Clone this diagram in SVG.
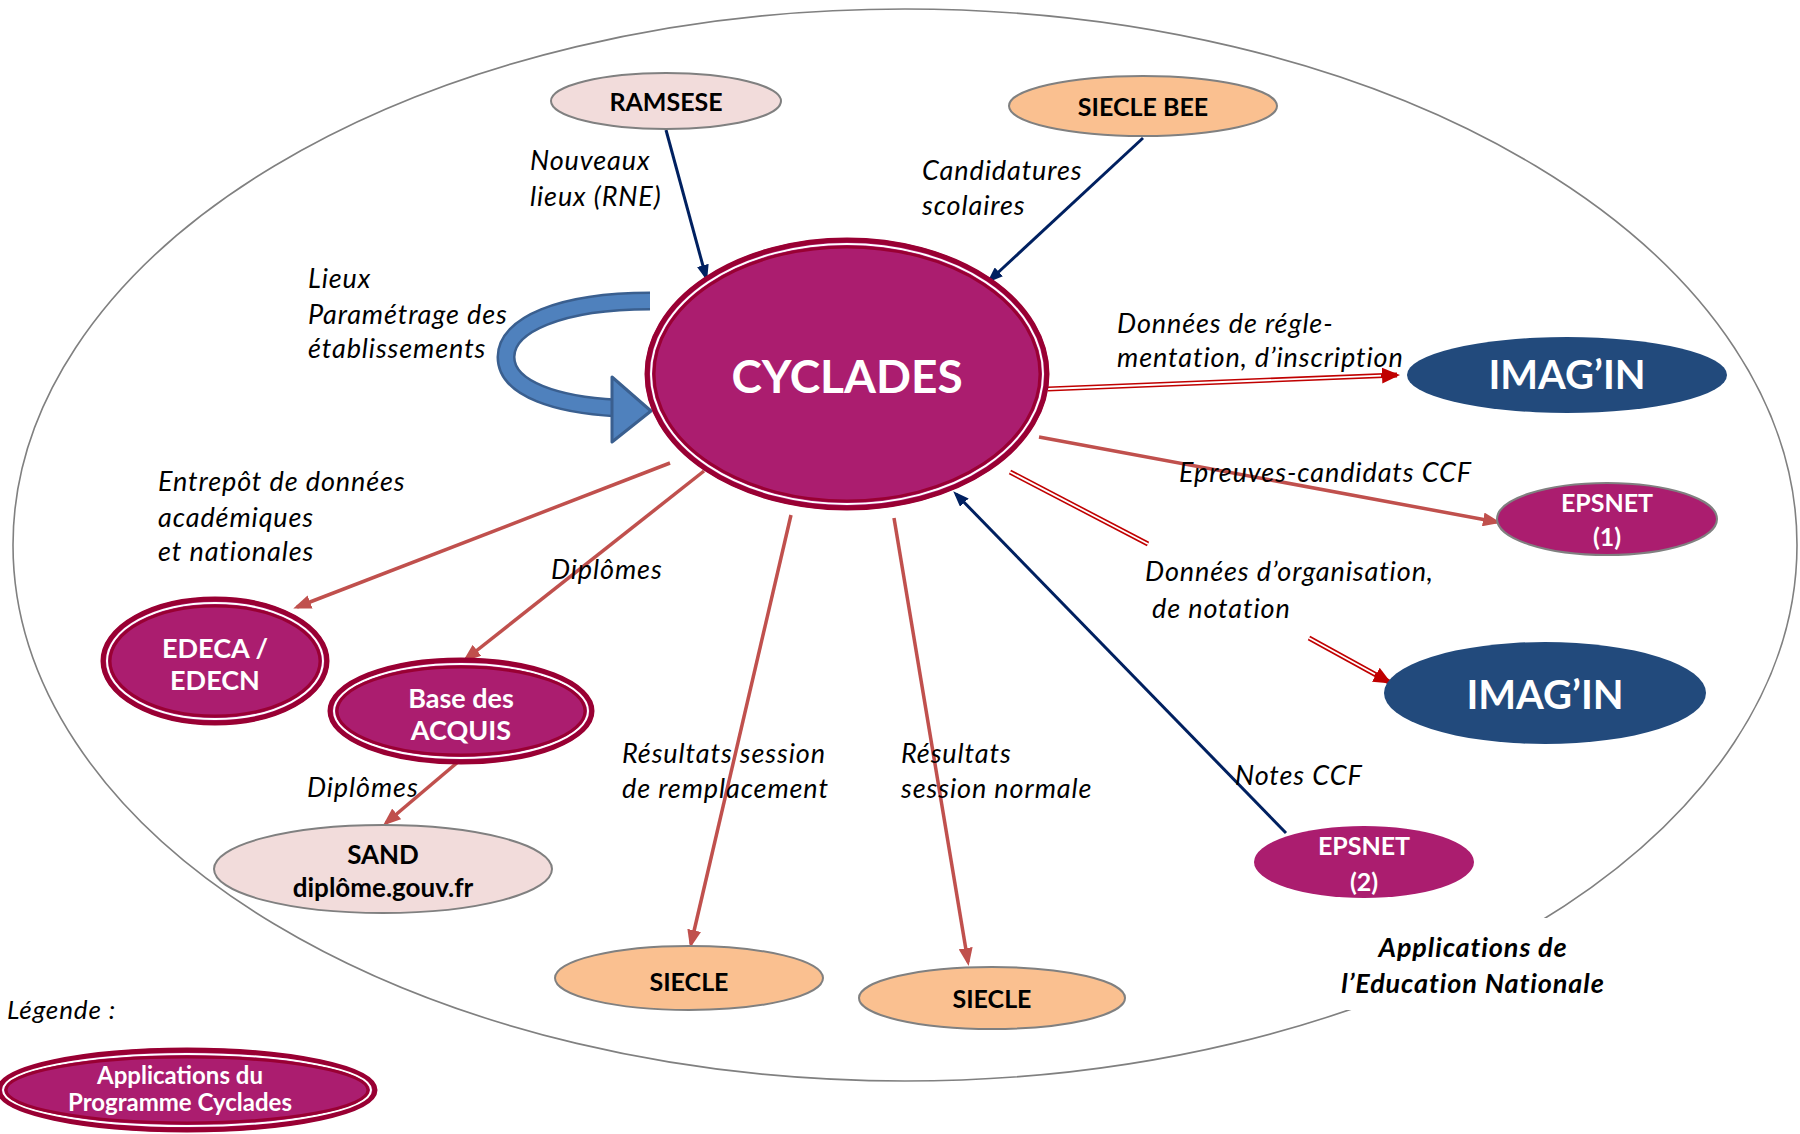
<svg xmlns="http://www.w3.org/2000/svg" width="1800" height="1134" viewBox="0 0 1800 1134">
<defs>
<style>
.lbl{font-family:Lato,"Liberation Sans",sans-serif;font-style:italic;font-size:27px;letter-spacing:0.9px;fill:#000}
.nt{font-family:Lato,"Liberation Sans",sans-serif;font-weight:bold;text-anchor:middle}
.w{fill:#fff}
.k{fill:#000}
.mag{fill:#AB1D6F}
.pink{fill:#F2DCDB;stroke:#808080;stroke-width:2}
.peach{fill:#FAC090;stroke:#808080;stroke-width:2}
.blue{fill:#224A7C}
.navy{stroke:#002060;stroke-width:3;fill:none;marker-end:url(#ah-navy)}
.brown{stroke:#C0504D;stroke-width:3.5;fill:none;marker-end:url(#ah-brown)}
.dred{stroke:#C00000;stroke-width:5;fill:none}
.dwhite{stroke:#fff;stroke-width:1.8;fill:none}
.ring1{fill:none;stroke:#990033;stroke-width:5}
.ring2{fill:none;stroke:#fff;stroke-width:2}
.ring3{fill:none;stroke:#990033;stroke-width:3}
</style>
<marker id="ah-navy" markerWidth="16" markerHeight="12" refX="12" refY="6" orient="auto" markerUnits="userSpaceOnUse"><path d="M0,0 L16,6 L0,12 z" fill="#002060"/></marker>
<marker id="ah-brown" markerWidth="18" markerHeight="14" refX="14" refY="7" orient="auto" markerUnits="userSpaceOnUse"><path d="M0,0 L18,7 L0,14 z" fill="#C0504D"/></marker>
<marker id="ah-red" markerWidth="18" markerHeight="16" refX="15" refY="8" orient="auto" markerUnits="userSpaceOnUse"><path d="M0,0 L18,8 L0,16 z" fill="#C00000"/></marker>
</defs>
<rect width="1800" height="1134" fill="#fff"/>

<g id="boundary">
<ellipse cx="905" cy="545" rx="892" ry="536" fill="none" stroke="#808080" stroke-width="1.6"/>
<rect x="1240" y="918" width="470" height="92" fill="#fff"/>
</g>

<g id="connectors">
<line class="navy" x1="666" y1="130" x2="706" y2="277"/>
<line class="navy" x1="1143" y1="138" x2="990" y2="280"/>
<line class="navy" x1="1286" y1="833" x2="956" y2="494"/>
<line class="dred" x1="1048" y1="389" x2="1397" y2="375" marker-end="url(#ah-red)"/>
<line class="dwhite" x1="1048" y1="389" x2="1381" y2="375.6"/>
<line class="dred" x1="1010" y1="472" x2="1148" y2="544"/>
<line class="dwhite" x1="1010" y1="472" x2="1148" y2="544"/>
<line class="dred" x1="1309" y1="638" x2="1389" y2="682" marker-end="url(#ah-red)"/>
<line class="dwhite" x1="1309" y1="638" x2="1375" y2="674.3"/>
<line class="brown" x1="1039" y1="437" x2="1497" y2="522"/>
<line class="brown" x1="670" y1="463" x2="297" y2="607"/>
<line class="brown" x1="704" y1="471" x2="466" y2="659"/>
<line class="brown" x1="458" y1="762" x2="386" y2="823"/>
<line class="brown" x1="791" y1="515" x2="691" y2="944"/>
<line class="brown" x1="894" y1="518" x2="968" y2="962"/>
<g id="loop-arrow">
<path d="M650 301 C560 301 506 325 506 357 C506 390 560 405 616 408" fill="none" stroke="#3A5F8F" stroke-width="19"/>
<path d="M650 301 C560 301 506 325 506 357 C506 390 560 405 616 408" fill="none" stroke="#4F81BD" stroke-width="14"/>
<polygon points="612,377 651,411 612,442" fill="#4F81BD" stroke="#3A5F8F" stroke-width="3" stroke-linejoin="round"/>
</g>
</g>

<g id="node-ramsese">
<ellipse class="pink" cx="666" cy="101" rx="115" ry="28"/>
<text class="nt k" x="666" y="111" font-size="25">RAMSESE</text>
</g>
<g id="node-siecle-bee">
<ellipse class="peach" cx="1143" cy="106" rx="134" ry="30"/>
<text class="nt k" x="1143" y="116" font-size="25">SIECLE BEE</text>
</g>
<g id="node-cyclades">
<ellipse class="mag" cx="847" cy="374" rx="202" ry="136"/>
<ellipse class="ring1" cx="847" cy="374" rx="200" ry="134"/>
<ellipse class="ring2" cx="847" cy="374" rx="196" ry="130"/>
<ellipse class="ring3" cx="847" cy="374" rx="193" ry="127"/>
<text class="nt w" x="847" y="393" font-size="46">CYCLADES</text>
</g>
<g id="node-imagin-1">
<ellipse class="blue" cx="1567" cy="375" rx="160" ry="38"/>
<text class="nt w" x="1567" y="389" font-size="40">IMAG’IN</text>
</g>
<g id="node-epsnet-1">
<ellipse class="mag" cx="1607" cy="519" rx="110" ry="36" stroke="#808080" stroke-width="2"/>
<text class="nt w" x="1607" y="512" font-size="25">EPSNET</text>
<text class="nt w" x="1607" y="546" font-size="25">(1)</text>
</g>
<g id="node-imagin-2">
<ellipse class="blue" cx="1545" cy="693" rx="161" ry="51"/>
<text class="nt w" x="1545" y="709" font-size="40">IMAG’IN</text>
</g>
<g id="node-epsnet-2">
<ellipse class="mag" cx="1364" cy="862" rx="110" ry="36"/>
<text class="nt w" x="1364" y="855" font-size="25">EPSNET</text>
<text class="nt w" x="1364" y="891" font-size="25">(2)</text>
</g>
<g id="node-edeca">
<ellipse class="mag" cx="215" cy="661" rx="114" ry="64"/>
<ellipse class="ring1" cx="215" cy="661" rx="112" ry="62"/>
<ellipse class="ring2" cx="215" cy="661" rx="108" ry="58"/>
<ellipse class="ring3" cx="215" cy="661" rx="105" ry="55"/>
<text class="nt w" x="215" y="658" font-size="27">EDECA /</text>
<text class="nt w" x="215" y="690" font-size="27">EDECN</text>
</g>
<g id="node-acquis">
<ellipse class="mag" cx="461" cy="711" rx="133" ry="53"/>
<ellipse class="ring1" cx="461" cy="711" rx="131" ry="51"/>
<ellipse class="ring2" cx="461" cy="711" rx="127" ry="47"/>
<ellipse class="ring3" cx="461" cy="711" rx="124" ry="44"/>
<text class="nt w" x="461" y="708" font-size="27">Base des</text>
<text class="nt w" x="461" y="740" font-size="27">ACQUIS</text>
</g>
<g id="node-sand">
<ellipse class="pink" cx="383" cy="869" rx="169" ry="44"/>
<text class="nt k" x="383" y="864" font-size="26">SAND</text>
<text class="nt k" x="383" y="897" font-size="26">diplôme.gouv.fr</text>
</g>
<g id="node-siecle-1">
<ellipse class="peach" cx="689" cy="978" rx="134" ry="32"/>
<text class="nt k" x="689" y="991" font-size="25">SIECLE</text>
</g>
<g id="node-siecle-2">
<ellipse class="peach" cx="992" cy="998" rx="133" ry="31"/>
<text class="nt k" x="992" y="1008" font-size="25">SIECLE</text>
</g>
<g id="legend">
<text class="lbl" x="7" y="1019" style="font-size:26px">Légende :</text>
<ellipse class="mag" cx="187" cy="1090" rx="190" ry="42"/>
<ellipse class="ring1" cx="187" cy="1090" rx="188" ry="40"/>
<ellipse class="ring2" cx="187" cy="1090" rx="184" ry="36"/>
<ellipse class="ring3" cx="187" cy="1090" rx="181" ry="33"/>
<text class="nt w" x="180" y="1084" font-size="24">Applications du</text>
<text class="nt w" x="180" y="1111" font-size="24">Programme Cyclades</text>
</g>

<g id="labels">
<text class="lbl" x="530" y="170">Nouveaux</text>
<text class="lbl" x="530" y="206">lieux (RNE)</text>
<text class="lbl" x="922" y="180">Candidatures</text>
<text class="lbl" x="922" y="215">scolaires</text>
<text class="lbl" x="308" y="288">Lieux</text>
<text class="lbl" x="308" y="324">Paramétrage des</text>
<text class="lbl" x="308" y="358">établissements</text>
<text class="lbl" x="1117" y="333">Données de régle-</text>
<text class="lbl" x="1117" y="367">mentation, d’inscription</text>
<text class="lbl" x="1179" y="482">Epreuves-candidats CCF</text>
<text class="lbl" x="1145" y="581">Données d’organisation,</text>
<text class="lbl" x="1152" y="618">de notation</text>
<text class="lbl" x="158" y="491">Entrepôt de données</text>
<text class="lbl" x="158" y="527">académiques</text>
<text class="lbl" x="158" y="561">et nationales</text>
<text class="lbl" x="551" y="579">Diplômes</text>
<text class="lbl" x="307" y="797">Diplômes</text>
<text class="lbl" x="622" y="763">Résultats session</text>
<text class="lbl" x="622" y="798">de remplacement</text>
<text class="lbl" x="901" y="763">Résultats</text>
<text class="lbl" x="901" y="798">session normale</text>
<text class="lbl" x="1235" y="785">Notes CCF</text>
<text class="lbl" x="1473" y="957" font-weight="bold" text-anchor="middle">Applications de</text>
<text class="lbl" x="1473" y="993" font-weight="bold" text-anchor="middle">l’Education Nationale</text>
</g>
</svg>
